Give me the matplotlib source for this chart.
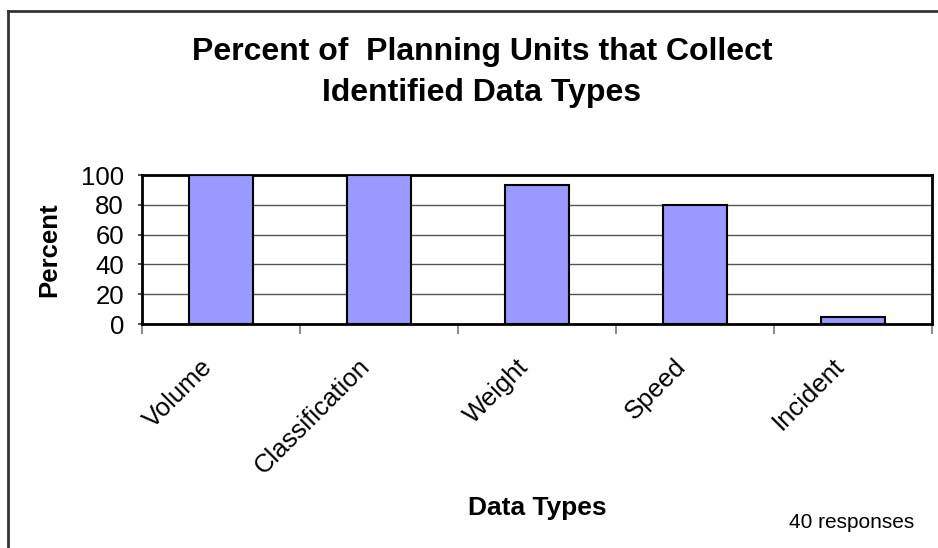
import matplotlib.pyplot as plt
from matplotlib.lines import Line2D

categories = ["Volume", "Classification", "Weight", "Speed", "Incident"]
percent = [100, 100, 93, 80, 5]
y_ticks = [0, 20, 40, 60, 80, 100]

plt.rcParams['font.family'] = ['Liberation Sans', 'DejaVu Sans']

fig = plt.figure(figsize=(9.38, 5.48), dpi=100)
ax = fig.add_axes([142 / 938, 1 - 324 / 548, 790 / 938, 149 / 548])

x = range(len(categories))
ax.bar(x, percent, width=0.4, color='#9999FF', edgecolor='black', linewidth=1.5, zorder=3)

ax.set_xlim(-0.5, len(categories) - 0.5)
ax.set_ylim(0, 100)
ax.set_yticks(y_ticks)
ax.set_yticklabels([str(v) for v in y_ticks], fontsize=18.5)
ax.yaxis.grid(True, color='#555555', linewidth=1.0, zorder=0)
ax.tick_params(axis='y', length=3, width=1.2, pad=10, color='#333333')

# category ticks sit on the boundaries between bars
ax.set_xticks([i - 0.5 for i in range(len(categories) + 1)])
ax.set_xticklabels([])
ax.tick_params(axis='x', length=7, width=1.2, color='#777777')
for i, name in enumerate(categories):
    ax.text(i - 0.08, -26, name, rotation=45, rotation_mode='anchor',
            ha='right', va='center', fontsize=18.5, clip_on=False)

for s in ax.spines.values():
    s.set_linewidth(2)
    s.set_color('black')

ax.set_ylabel("Percent", fontsize=18.5, fontweight='bold', labelpad=14)

fig.text(482 / 938, 1 - 52 / 548, "Percent of  Planning Units that Collect",
         ha='center', va='center', fontsize=23, fontweight='bold')
fig.text(482 / 938, 1 - 93 / 548, "Identified Data Types",
         ha='center', va='center', fontsize=23, fontweight='bold')
fig.text(537 / 938, 1 - 508 / 548, "Data Types", ha='center', va='center',
         fontsize=19, fontweight='bold')
fig.text(852 / 938, 1 - 523 / 548, "40 responses", ha='center', va='center', fontsize=15)

# outer chart frame, left and top edges
fig.add_artist(Line2D([8 / 938, 8 / 938], [0, 1 - 11 / 548], color='#333333', linewidth=2))
fig.add_artist(Line2D([8 / 938, 1], [1 - 11 / 548, 1 - 11 / 548], color='#333333', linewidth=2))

fig.savefig("out.png", dpi=100)
